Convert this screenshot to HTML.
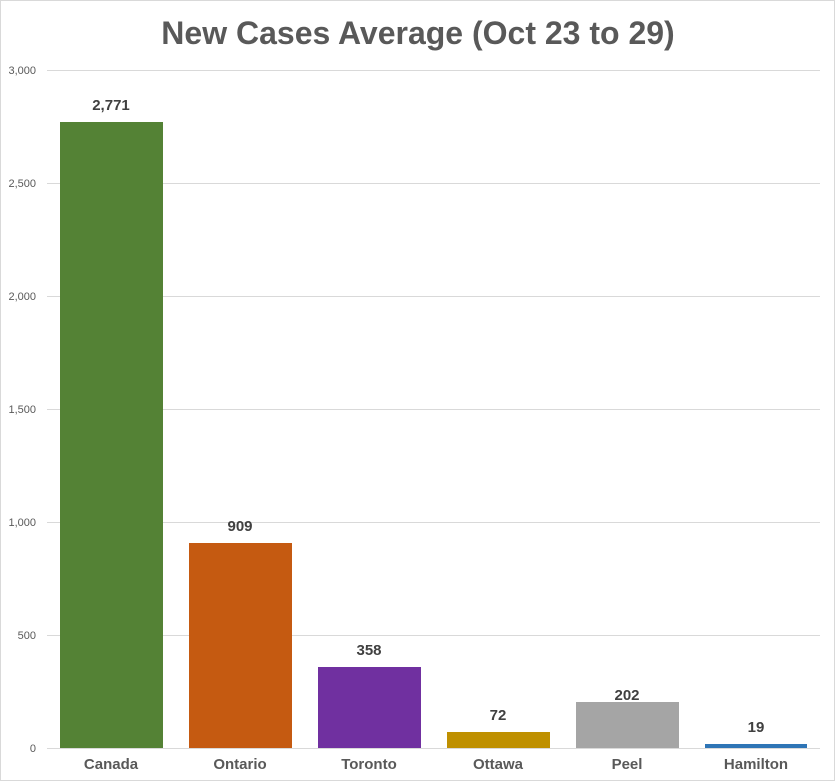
<!DOCTYPE html>
<html><head><style>body{margin:0;background:#fff}svg{display:block}</style></head><body>
<svg width="835" height="781" xmlns="http://www.w3.org/2000/svg" font-family="'Liberation Sans',sans-serif">
<rect x="0.5" y="0.5" width="834" height="780" fill="#fff" stroke="#d9d9d9"/>
<text x="418" y="44" text-anchor="middle" font-size="32" font-weight="bold" fill="#595959">New Cases Average (Oct 23 to 29)</text>
<g stroke="#d9d9d9" stroke-width="1">
<line x1="47" x2="820" y1="70.5" y2="70.5"/><line x1="47" x2="820" y1="183.5" y2="183.5"/>
<line x1="47" x2="820" y1="296.5" y2="296.5"/><line x1="47" x2="820" y1="409.5" y2="409.5"/>
<line x1="47" x2="820" y1="522.5" y2="522.5"/><line x1="47" x2="820" y1="635.5" y2="635.5"/>
<line x1="47" x2="820" y1="748.5" y2="748.5"/>
</g>
<g font-size="11" fill="#595959" text-anchor="end">
<text x="36" y="74">3,000</text><text x="36" y="187">2,500</text><text x="36" y="300">2,000</text>
<text x="36" y="413">1,500</text><text x="36" y="526">1,000</text><text x="36" y="639">500</text><text x="36" y="752">0</text>
</g>
<rect x="60" y="122" width="103" height="626" fill="#548235"/>
<rect x="189" y="543" width="103" height="205" fill="#c55a11"/>
<rect x="318" y="667" width="103" height="81" fill="#7030a0"/>
<rect x="447" y="732" width="103" height="16" fill="#bf9000"/>
<rect x="576" y="702" width="103" height="46" fill="#a5a5a5"/>
<rect x="705" y="744" width="102" height="4" fill="#2e75b6"/>
<g font-size="15" font-weight="bold" fill="#404040" text-anchor="middle">
<text x="111" y="110">2,771</text><text x="240" y="531">909</text><text x="369" y="655">358</text>
<text x="498" y="720">72</text><text x="627" y="700">202</text><text x="756" y="732">19</text>
</g>
<g font-size="15" font-weight="bold" fill="#595959" text-anchor="middle">
<text x="111" y="769">Canada</text><text x="240" y="769">Ontario</text><text x="369" y="769">Toronto</text>
<text x="498" y="769">Ottawa</text><text x="627" y="769">Peel</text><text x="756" y="769">Hamilton</text>
</g>
</svg>
</body></html>
